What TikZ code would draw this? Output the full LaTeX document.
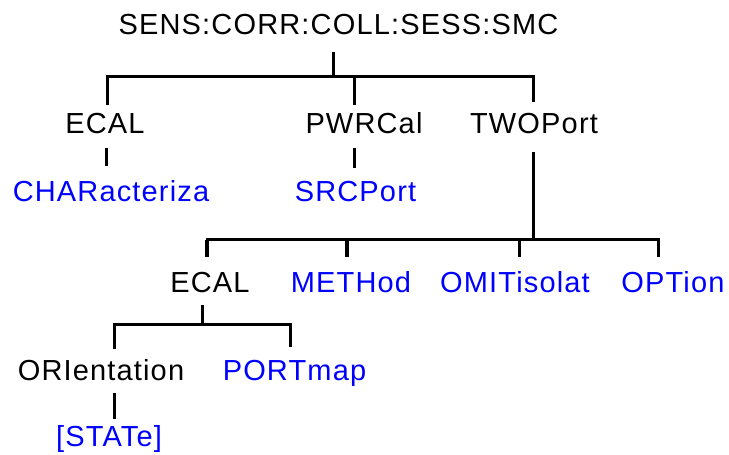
\documentclass[tikz,border=0pt]{standalone}
\usepackage{fontspec}
\usepackage{tikz}
\newfontfamily\diagfont[LetterSpace=4]{Liberation Sans}
\definecolor{optblue}{RGB}{0,0,255}
\tikzset{
  cmd/.style={anchor=base, inner sep=0pt, text height=21pt, text depth=0pt, font=\diagfont\fontsize{29}{29}\selectfont, text=black},
  opt/.style={cmd, text=optblue},
  wire/.style={draw=black, line width=3pt},
  heavy/.style={wire, line width=4.2pt},
}
\begin{document}
\begin{tikzpicture}[x=1pt, y=1pt]
\useasboundingbox (0,0) rectangle (729,455);
% level 0 and 1
\node[cmd] (root) at (338.5,420) {SENS:CORR:COLL:SESS:SMC};
\node[cmd] (ecal) at (105,321) {ECAL};
\node[cmd] (pwrcal) at (364,321) {PWRCal};
\node[cmd] (twoport) at (534,321) {TWOPort};
\node[opt] (charac) at (111,253) {CHARacteriza};
\node[opt] (srcport) at (355.5,253) {SRCPort};
% level 2
\node[cmd] (ecaltwo) at (210,162) {ECAL};
\node[opt] (method) at (351,162) {METHod};
\node[opt] (omit) at (515,162) {OMITisolat};
\node[opt] (option) at (673,162) {OPTion};
% level 3
\node[cmd] (orient) at (101,74) {ORIentation};
\node[opt] (portmap) at (294.5,74) {PORTmap};
\node[opt] (state) at (109,8) {[STATe]};

\draw[wire] ([xshift=-5.5pt,yshift=-17pt]root.south) -- ++(0,-25pt);
\draw[wire] ([xshift=2pt,yshift=8pt]ecal.north) -- ++(0,28pt) -| ([xshift=-1pt,yshift=11pt]twoport.north);
\draw[wire] ([xshift=-10pt,yshift=8pt]pwrcal.north) -- ++(0,28pt);
\draw[wire] ([xshift=1pt,yshift=-14pt]ecal.south) -- ([xshift=-5pt,yshift=15pt]charac.north);
\draw[wire] ([xshift=-10pt,yshift=-14pt]pwrcal.south) -- ([xshift=-1.5pt,yshift=13pt]srcport.north);

\draw[wire] ([xshift=-1pt,yshift=-18pt]twoport.south) -- ++(0,-88pt);
\draw[wire] ([xshift=-3pt,yshift=15pt]ecaltwo.north) -- ++(0,17pt) -| ([xshift=-15pt,yshift=15pt]option.north);
\draw[heavy] ([xshift=-3pt,yshift=15pt]ecaltwo.north) -- ++(0,17pt);
\draw[heavy] ([xshift=-4pt,yshift=15pt]method.north) -- ++(0,17pt);
\draw[wire] ([xshift=4pt,yshift=15pt]omit.north) -- ++(0,17pt);

\draw[wire] ([xshift=-8pt,yshift=-12pt]ecaltwo.south) -- ++(0,-20pt);
\draw[wire] ([xshift=13pt,yshift=11pt]orient.north) -- ++(0,24pt) -| ([xshift=-4.5pt,yshift=13pt]portmap.north);
\draw[wire] ([xshift=13pt,yshift=-12pt]orient.south) -- ([xshift=5pt,yshift=7pt]state.north);
\end{tikzpicture}
\end{document}
